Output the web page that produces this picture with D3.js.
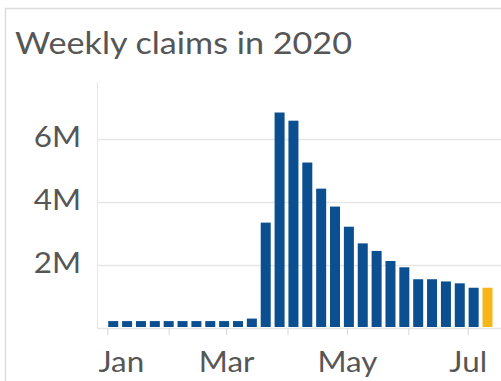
<!DOCTYPE html>
<html><head><meta charset="utf-8">
<script src="https://cdn.jsdelivr.net/npm/d3@7"></script>
<style>html,body{margin:0;padding:0;background:#fff;overflow:hidden}</style>
</head><body>
<svg id="c" width="501" height="381"></svg>
<script>
// ---- data ----
const title = "Weekly claims in 2020";
const weekEnding = ["2020-01-04","2020-01-11","2020-01-18","2020-01-25","2020-02-01","2020-02-08","2020-02-15","2020-02-22","2020-02-29","2020-03-07","2020-03-14","2020-03-21","2020-03-28","2020-04-04","2020-04-11","2020-04-18","2020-04-25","2020-05-02","2020-05-09","2020-05-16","2020-05-23","2020-05-30","2020-06-06","2020-06-13","2020-06-20","2020-06-27","2020-07-04","2020-07-11"];
const claimsMillions = [0.22,0.22,0.22,0.22,0.22,0.22,0.22,0.22,0.22,0.22,0.30,3.35,6.85,6.59,5.26,4.43,3.86,3.22,2.69,2.45,2.13,1.93,1.55,1.55,1.48,1.42,1.28,1.28];
const latestWeek = "2020-07-11";
const yTickValues = [2, 4, 6];
const yTickLabels = ["2M", "4M", "6M"];
const monthLabels = ["Jan", "", "Mar", "", "May", "", "Jul"];

// ---- layout ----
const W = 501, H = 381;
const plot = {left: 97, top: 82, bottom: 328, right: 501};
const xStart = 107.3, xJul = 467.7;
const font = "Lato, 'Open Sans', sans-serif";
const textColor = "#565656";
const gridColor = "#e6e6e6";
const stretch = 1.12;

const parse = d3.timeParse("%Y-%m-%d");
const data = weekEnding.map((d, i) => ({date: parse(d), v: claimsMillions[i], latest: d === latestWeek}));

const x = d3.scaleTime()
  .domain([parse("2020-01-01"), parse("2020-07-01")])
  .range([xStart, xJul]);
const y = d3.scaleLinear().domain([0, 7.82]).range([plot.bottom, plot.top]);

const svg = d3.select("#c");

// card
svg.append("rect").attr("x", 5.5).attr("y", 8.5).attr("width", 600).attr("height", 500)
  .attr("fill", "#fff").attr("stroke", "#dcdcdc").attr("stroke-width", 1.5);

// title
svg.append("text").attr("x", 15).attr("y", 53.5)
  .attr("font-family", font).attr("font-size", 30).attr("fill", textColor)
  .attr("textLength", 337).attr("lengthAdjust", "spacingAndGlyphs")
  .text(title);

// y axis line
svg.append("line").attr("x1", plot.left + 0.5).attr("x2", plot.left + 0.5)
  .attr("y1", plot.top).attr("y2", plot.bottom).attr("stroke", gridColor);

// gridlines
svg.append("g").selectAll("line").data(yTickValues).join("line")
  .attr("x1", plot.left).attr("x2", plot.right)
  .attr("y1", d => Math.round(y(d)) + 0.5).attr("y2", d => Math.round(y(d)) + 0.5)
  .attr("stroke", gridColor).attr("stroke-width", 1.5);

// y labels
svg.append("g").selectAll("text").data(yTickValues).join("text")
  .attr("transform", d => `translate(81,${y(d) - 2}) scale(${stretch},1)`)
  .attr("dy", "0.35em")
  .attr("text-anchor", "end")
  .attr("font-family", font).attr("font-size", 28).attr("fill", textColor)
  .text((d, i) => yTickLabels[i]);

// bars
svg.append("g").selectAll("rect").data(data).join("rect")
  .attr("x", d => x(d.date) - 5)
  .attr("width", 10)
  .attr("y", d => y(d.v))
  .attr("height", d => y(0) - 1 - y(d.v))
  .attr("fill", d => d.latest ? "#f7b71a" : "#0b4f90");

// x axis
const months = d3.timeMonth.range(parse("2020-01-01"), parse("2020-07-02"));
const xAxis = d3.axisBottom(x).tickValues(months)
  .tickSize(7).tickPadding(0)
  .tickFormat((d, i) => monthLabels[i]);
const gx = svg.append("g").attr("transform", `translate(0,${plot.bottom})`).call(xAxis);
gx.select(".domain").attr("stroke", gridColor).attr("stroke-width", 1.5)
  .attr("d", `M${plot.left},0.5H${plot.right}`);
gx.selectAll(".tick line").attr("stroke", "#d8d8d8");
gx.selectAll(".tick text")
  .attr("y", 24).attr("dy", "0.71em")
  .attr("transform", `scale(${stretch},1)`)
  .attr("font-family", font).attr("font-size", 28).attr("fill", textColor);
gx.selectAll(".tick text").filter((d, i) => i === 0)
  .attr("text-anchor", "start").attr("x", (plot.left - xStart + 1) / stretch);
</script>
</body></html>
